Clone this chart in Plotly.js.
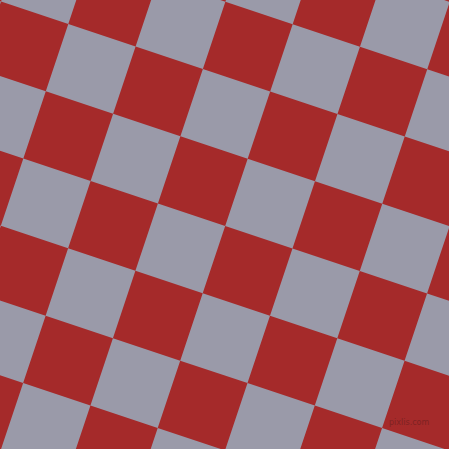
<!DOCTYPE html>
<html>
<head>
<meta charset="utf-8">
<script src="https://cdn.plot.ly/plotly-3.0.1.min.js"></script>
<style>
  html, body { margin: 0; padding: 0; background: #9a9aa9; }
  #graph { width: 449px; height: 449px; }
</style>
</head>
<body>
<div id="graph"></div>
<script>
/* ----- Pattern values ---------------------------- */
var tileColors = ['#9a9aa9', '#a52a2a']; // grey tile, red tile
var cornerStart = [68.3, 24];            // one corner where four tiles meet
var edgeStep = [67.29, 22.49];           // one tile edge (x, y), the other edge is turned 90 degrees
var tileCols = [-3, -2, -1, 0, 1, 2, 3, 4, 5, 6, 7, 8];
var tileRows = [-3, -2, -1, 0, 1, 2, 3, 4, 5, 6, 7];
var markText = 'pixlis.com';

/* ----- Build the red tiles as one filled trace ------- */
function corner(i, j) {
    return [
        cornerStart[0] + i*edgeStep[0] - j*edgeStep[1],
        cornerStart[1] + i*edgeStep[1] + j*edgeStep[0]
    ];
}

var xs = [], ys = [];
tileCols.forEach(function(i) {
    tileRows.forEach(function(j) {
        if (Math.abs(i + j) % 2 !== 1) return;
        var pts = [corner(i, j), corner(i+1, j), corner(i+1, j+1), corner(i, j+1)];
        var inside = pts.some(function(p) { return p[0] > -80 && p[0] < 530 && p[1] > -80 && p[1] < 530; });
        if (!inside) return;
        pts.push(pts[0]);
        pts.forEach(function(p) { xs.push(p[0]); ys.push(p[1]); });
        xs.push(null); ys.push(null);
    });
});

var redTiles = {
    x: xs,
    y: ys,
    mode: 'lines',
    fill: 'toself',
    fillcolor: tileColors[1],
    line: {width: 0, color: tileColors[1]},
    hoverinfo: 'skip',
    showlegend: false
};

var layout = {
    width: 449,
    height: 449,
    margin: {l: 0, r: 0, t: 0, b: 0},
    paper_bgcolor: tileColors[0],
    plot_bgcolor: tileColors[0],
    showlegend: false,
    xaxis: {range: [0, 449], visible: false, fixedrange: true},
    yaxis: {range: [449, 0], visible: false, fixedrange: true},
    annotations: [{
        text: markText,
        x: 409, y: 422,
        xref: 'x', yref: 'y',
        showarrow: false,
        font: {family: 'DejaVu Sans', size: 8, color: '#7e2222'}
    }]
};

Plotly.newPlot('graph', [redTiles], layout, {staticPlot: true});
</script>
</body>
</html>
